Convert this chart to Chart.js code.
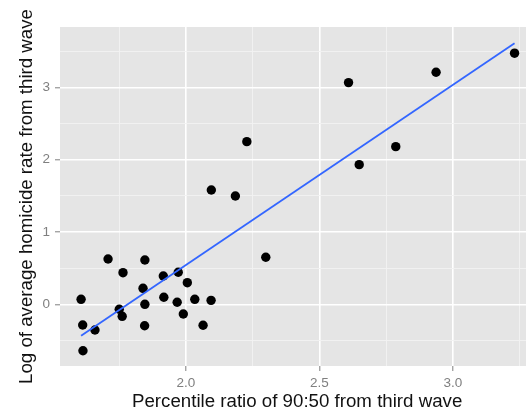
<!DOCTYPE html>
<html>
<head>
<meta charset="utf-8">
<script src="https://cdn.jsdelivr.net/npm/chart.js@4/dist/chart.umd.min.js"></script>
<style>
  html, body { margin: 0; padding: 0; background: #fff; overflow: hidden; }
  #wrap { width: 526px; height: 415px; overflow: hidden; position: relative; }
  canvas { display: block; }
</style>
</head>
<body>
<div id="wrap"><canvas id="c" width="539" height="415"></canvas></div>
<script>
// Percentile ratio of 90:50 (x) and log of average homicide rate (y)
const ratio90to50 = [1.607, 1.613, 1.614, 1.659, 1.708, 1.764, 1.750, 1.761, 1.846, 1.839,
                     1.846, 1.845, 1.915, 1.917, 1.971, 1.967, 2.005, 1.990, 2.033, 2.064,
                     2.094, 2.228, 2.095, 2.185, 2.299, 2.609, 2.937, 3.231, 2.786, 2.649];
const logHomicide = [0.069, -0.286, -0.642, -0.355, 0.627, 0.437, -0.069, -0.166, 0.613, 0.221,
                     0.000, -0.296, 0.391, 0.097, 0.443, 0.028, 0.299, -0.134, 0.069, -0.290,
                     0.055, 2.249, 1.581, 1.498, 0.650, 3.065, 3.209, 3.472, 2.180, 1.931];
// Fitted linear trend endpoints
const fitX = [1.607, 3.231];
const fitY = [-0.434, 3.610];
// Ticks
const xTickValues = [1.75, 2.0, 2.25, 2.5, 2.75, 3.0, 3.25];
const xMajorTicks = [2.0, 2.5, 3.0];
const yTickValues = [-0.5, 0, 0.5, 1, 1.5, 2, 2.5, 3, 3.5];
const yMajorTicks = [0, 1, 2, 3];

const xTitle = 'Percentile ratio of 90:50 from third wave';
const yTitle = 'Log of average homicide rate from third wave';

const isMajor = (arr, v) => arr.some(m => Math.abs(m - v) < 1e-9);

const panelBg = {
  id: 'panelBg',
  beforeDraw(chart) {
    const {ctx, chartArea: a} = chart;
    ctx.save();
    ctx.fillStyle = '#e5e5e5';
    ctx.fillRect(a.left, a.top, a.right - a.left, a.bottom - a.top);
    ctx.restore();
  }
};

const FONT = "'Liberation Sans', Arial, Helvetica, sans-serif";

new Chart(document.getElementById('c'), {
  type: 'scatter',
  data: {
    datasets: [
      {
        type: 'line',
        data: fitX.map((x, i) => ({x, y: fitY[i]})),
        borderColor: '#3366ff',
        borderWidth: 1.8,
        pointRadius: 0,
        fill: false,
        order: 0
      },
      {
        data: ratio90to50.map((x, i) => ({x, y: logHomicide[i]})),
        backgroundColor: '#000',
        borderColor: '#000',
        pointRadius: 4.7,
        pointBorderWidth: 0,
        order: 1
      }
    ]
  },
  options: {
    responsive: false,
    animation: false,
    devicePixelRatio: 1,
    layout: { padding: { top: 27, right: 0, left: 0, bottom: 0 } },
    plugins: { legend: { display: false }, tooltip: { enabled: false } },
    scales: {
      x: {
        type: 'linear',
        min: 1.528,
        max: 3.305,
        afterBuildTicks(scale) { scale.ticks = xTickValues.map(v => ({value: v})); },
        afterFit(scale) { scale.height = 49; },
        border: { display: false },
        grid: {
          color: c => isMajor(xMajorTicks, c.tick.value) ? '#ffffff' : '#f2f2f2',
          lineWidth: c => isMajor(xMajorTicks, c.tick.value) ? 1.6 : 0.9,
          tickColor: c => isMajor(xMajorTicks, c.tick.value) ? '#7f7f7f' : 'rgba(0,0,0,0)',
          tickLength: 5,
          tickWidth: 1,
          drawTicks: true
        },
        ticks: {
          autoSkip: false,
          maxRotation: 0,
          padding: 4,
          color: '#7f7f7f',
          font: { family: FONT, size: 13.5 },
          callback: v => isMajor(xMajorTicks, v) ? v.toFixed(1) : ''
        },
        title: {
          display: true,
          text: xTitle,
          color: '#111',
          font: { family: FONT, size: 18.7 },
          padding: { top: 0, bottom: 2 }
        }
      },
      y: {
        type: 'linear',
        min: -0.853,
        max: 3.834,
        afterBuildTicks(scale) { scale.ticks = yTickValues.map(v => ({value: v})); },
        afterFit(scale) { scale.width = 60; },
        border: { display: false },
        grid: {
          color: c => isMajor(yMajorTicks, c.tick.value) ? '#ffffff' : '#f2f2f2',
          lineWidth: c => isMajor(yMajorTicks, c.tick.value) ? 1.6 : 0.9,
          tickColor: c => isMajor(yMajorTicks, c.tick.value) ? '#7f7f7f' : 'rgba(0,0,0,0)',
          tickLength: 5,
          tickWidth: 1,
          drawTicks: true
        },
        ticks: {
          autoSkip: false,
          padding: 5,
          color: '#7f7f7f',
          font: { family: FONT, size: 13.5 },
          callback: v => isMajor(yMajorTicks, v) ? String(Math.round(v)) : ''
        },
        title: {
          display: true,
          text: yTitle,
          color: '#111',
          font: { family: FONT, size: 18.7 },
          padding: { top: 16, bottom: 0 }
        }
      }
    }
  },
  plugins: [panelBg]
});
</script>
</body>
</html>
